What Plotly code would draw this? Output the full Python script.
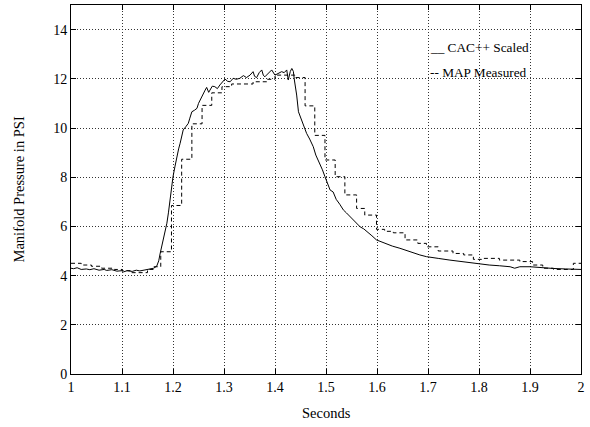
import plotly.graph_objects as go

# CAC++ Scaled (solid line)
cac_t = [1.000, 1.005, 1.012, 1.020, 1.030, 1.037, 1.045, 1.055, 1.065, 1.070,
         1.080, 1.090, 1.100, 1.103, 1.110, 1.120, 1.128, 1.135, 1.145, 1.155,
         1.162, 1.168, 1.172, 1.175, 1.178, 1.181, 1.184, 1.188, 1.191, 1.194,
         1.197, 1.200, 1.204, 1.207, 1.211, 1.214, 1.217, 1.220, 1.225, 1.230,
         1.233, 1.237, 1.242, 1.247, 1.250, 1.253, 1.258, 1.263, 1.266, 1.270,
         1.2725, 1.277, 1.282, 1.287, 1.292, 1.297, 1.302, 1.307, 1.312, 1.318,
         1.324, 1.331, 1.338, 1.344, 1.351, 1.357, 1.360, 1.364, 1.369, 1.374,
         1.377, 1.380, 1.386, 1.3935, 1.400, 1.406, 1.413, 1.418, 1.423, 1.426,
         1.430, 1.433, 1.436, 1.438, 1.4425, 1.446, 1.450, 1.455, 1.462, 1.468,
         1.475, 1.480, 1.488, 1.493, 1.498, 1.503, 1.508, 1.514, 1.520, 1.527,
         1.534, 1.540, 1.547, 1.554, 1.560, 1.567, 1.574, 1.580, 1.590, 1.599,
         1.610, 1.620, 1.630, 1.645, 1.660, 1.675, 1.684, 1.697, 1.710, 1.720,
         1.743, 1.760, 1.775, 1.790, 1.802, 1.820, 1.840, 1.861, 1.870, 1.880,
         1.900, 1.920, 1.946, 1.970, 2.000]
cac_p = [4.30, 4.28, 4.32, 4.25, 4.27, 4.24, 4.28, 4.22, 4.25, 4.21,
         4.24, 4.18, 4.20, 4.15, 4.20, 4.17, 4.22, 4.19, 4.23, 4.28,
         4.30, 4.38, 4.60, 4.92, 5.20, 5.45, 5.75, 6.13, 6.55, 7.07,
         7.60, 8.02, 8.45, 8.83, 9.15, 9.38, 9.70, 9.92, 10.05, 10.19,
         10.40, 10.66, 10.72, 10.80, 11.00, 11.14, 11.35, 11.54, 11.65, 11.45,
         11.54, 11.70, 11.68, 11.60, 11.75, 11.85, 11.99, 11.90, 11.88, 12.02,
         11.98, 12.02, 12.13, 12.05, 12.15, 12.29, 12.10, 12.05, 12.25, 12.36,
         12.15, 12.08, 12.20, 12.36, 12.15, 12.20, 12.29, 12.25, 12.36, 11.95,
         12.30, 12.42, 12.30, 11.95, 11.34, 10.66, 10.45, 10.20, 9.78, 9.55,
         9.24, 8.90, 8.56, 8.30, 8.02, 7.75, 7.48, 7.40, 7.10, 6.90,
         6.67, 6.55, 6.40, 6.26, 6.15, 5.98, 5.90, 5.78, 5.62, 5.45,
         5.35, 5.28, 5.20, 5.11, 5.00, 4.92, 4.84, 4.77, 4.72, 4.70,
         4.63, 4.58, 4.54, 4.50, 4.47, 4.43, 4.40, 4.36, 4.30, 4.36,
         4.36, 4.32, 4.29, 4.27, 4.25]

# MAP Measured (dashed step line)
map_t = [1.000, 1.020, 1.040, 1.060, 1.085, 1.100, 1.116, 1.150, 1.162, 1.176,
         1.197, 1.217, 1.237, 1.257, 1.276, 1.296, 1.315, 1.357, 1.384, 1.400,
         1.439, 1.459, 1.478, 1.498, 1.518, 1.537, 1.560, 1.576, 1.599, 1.615,
         1.632, 1.655, 1.680, 1.697, 1.720, 1.749, 1.770, 1.789, 1.805, 1.840,
         1.880, 1.905, 1.925, 1.946, 1.985, 2.000]
map_p = [4.50, 4.43, 4.38, 4.30, 4.25, 4.20, 4.12, 4.25, 4.36, 4.97,
         6.85, 8.73, 10.17, 10.92, 11.43, 11.68, 11.79, 11.88, 11.98, 12.15,
         12.05, 10.90, 9.70, 8.70, 8.02, 7.28, 6.73, 6.46, 5.88, 5.80,
         5.74, 5.45, 5.31, 5.17, 5.00, 4.90, 4.84, 4.66, 4.70, 4.63,
         4.57, 4.43, 4.30, 4.25, 4.50, 4.50]

x_ticks = [1, 1.1, 1.2, 1.3, 1.4, 1.5, 1.6, 1.7, 1.8, 1.9, 2]
x_tick_text = ["1", "1.1", "1.2", "1.3", "1.4", "1.5", "1.6", "1.7", "1.8", "1.9", "2"]
y_ticks = [0, 2, 4, 6, 8, 10, 12, 14]

FONT = "Liberation Serif, Times New Roman, serif"

fig = go.Figure()
fig.add_trace(go.Scatter(x=cac_t, y=cac_p, mode="lines", name="CAC++ Scaled",
                         line=dict(color="black", width=1)))
fig.add_trace(go.Scatter(x=map_t, y=map_p, mode="lines", name="MAP Measured",
                         line=dict(color="black", width=1, dash="4px,3px", shape="hv")))

axis_common = dict(showline=True, linecolor="black", linewidth=1, mirror="ticks",
                   ticks="inside", ticklen=5, tickcolor="black",
                   showgrid=True, gridcolor="#333333", griddash="1px,2px", gridwidth=1,
                   zeroline=False, tickfont=dict(family=FONT, size=14, color="black"))

fig.update_xaxes(range=[1, 2], tickvals=x_ticks, ticktext=x_tick_text, **axis_common)
fig.update_yaxes(range=[0, 15], tickvals=y_ticks, **axis_common)

fig.add_annotation(text="Seconds", xref="paper", yref="paper", x=0.5, y=-0.106,
                   xanchor="center", yanchor="middle", showarrow=False,
                   font=dict(family=FONT, size=14.5, color="black"))
fig.add_annotation(text="Manifold Pressure in PSI", xref="paper", yref="paper",
                   x=-0.102, y=0.5, xanchor="center", yanchor="middle",
                   textangle=-90, showarrow=False,
                   font=dict(family=FONT, size=14.5, color="black"))
fig.add_annotation(text="__ CAC++ Scaled", xref="paper", yref="paper", x=0.7, y=0.884,
                   xanchor="left", yanchor="middle", showarrow=False,
                   font=dict(family=FONT, size=13.3, color="black"))
fig.add_annotation(text="-- MAP Measured", xref="paper", yref="paper", x=0.7, y=0.816,
                   xanchor="left", yanchor="middle", showarrow=False,
                   font=dict(family=FONT, size=13.3, color="black"))

fig.update_layout(width=590, height=427, showlegend=False,
                  margin=dict(l=71, r=9, t=5, b=53),
                  plot_bgcolor="white", paper_bgcolor="white",
                  font=dict(family=FONT, color="black"))

fig.write_html("out.html", config={"displayModeBar": False},
               post_script="document.body.style.margin='0';")
